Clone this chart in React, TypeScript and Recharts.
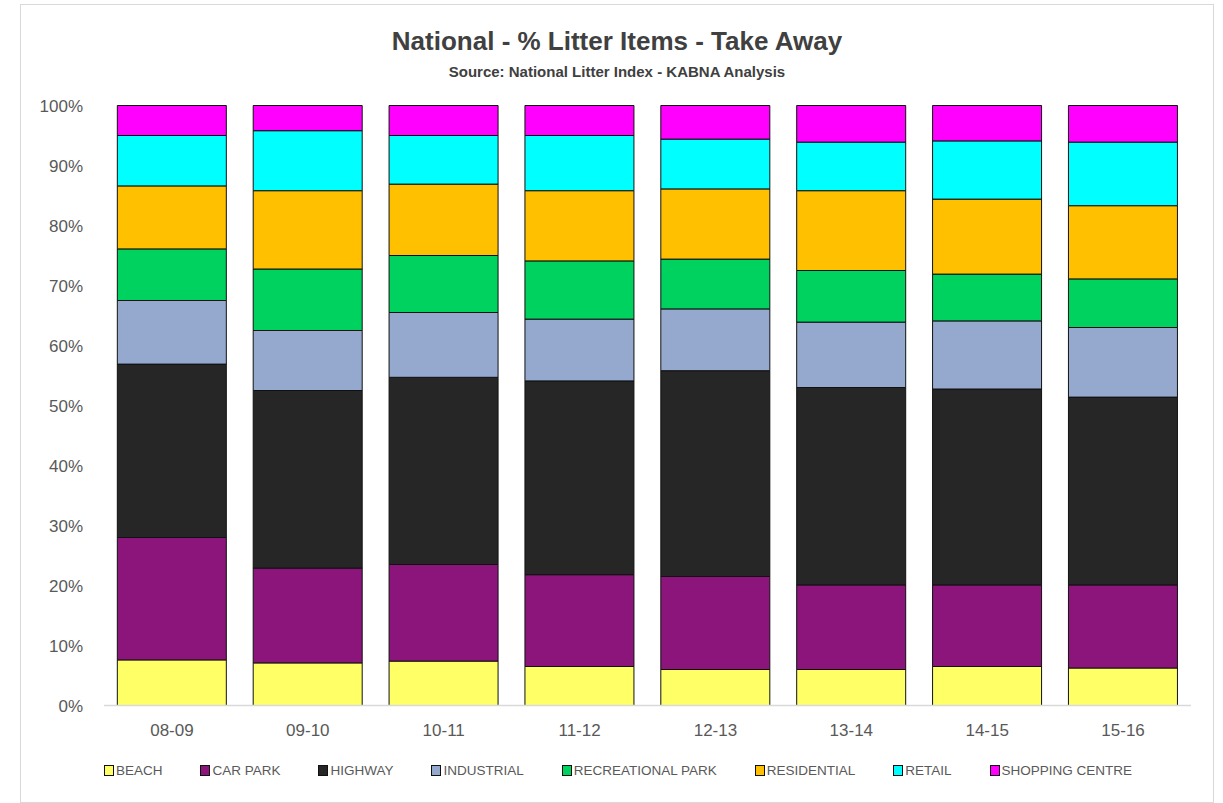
import { BarChart, Bar, XAxis, YAxis, Legend } from 'recharts'

const years = ['08-09', '09-10', '10-11', '11-12', '12-13', '13-14', '14-15', '15-16']

const beach = [7.6, 7.1, 7.4, 6.5, 6.0, 6.0, 6.5, 6.25]
const carPark = [20.4, 15.8, 16.1, 15.3, 15.5, 14.1, 13.6, 13.85]
const highway = [28.9, 29.6, 31.2, 32.3, 34.3, 32.9, 32.65, 31.3]
const industrial = [10.6, 10.0, 10.8, 10.3, 10.3, 10.9, 11.35, 11.6]
const recreationalPark = [8.6, 10.25, 9.5, 9.7, 8.3, 8.6, 7.8, 8.1]
const residential = [10.5, 13.05, 11.9, 11.7, 11.7, 13.3, 12.5, 12.2]
const retail = [8.4, 10.0, 8.1, 9.2, 8.3, 8.1, 9.7, 10.6]
const shoppingCentre = [5.0, 4.2, 5.0, 5.0, 5.6, 6.1, 5.9, 6.1]

const yTicks = [0, 10, 20, 30, 40, 50, 60, 70, 80, 90, 100]

const SERIES = [
  { key: 'beach', name: 'BEACH', color: '#FFFF66', values: beach },
  { key: 'carPark', name: 'CAR PARK', color: '#8B157A', values: carPark },
  { key: 'highway', name: 'HIGHWAY', color: '#262626', values: highway },
  { key: 'industrial', name: 'INDUSTRIAL', color: '#95A9CF', values: industrial },
  { key: 'recreationalPark', name: 'RECREATIONAL PARK', color: '#00D25F', values: recreationalPark },
  { key: 'residential', name: 'RESIDENTIAL', color: '#FFC000', values: residential },
  { key: 'retail', name: 'RETAIL', color: '#00FFFF', values: retail },
  { key: 'shoppingCentre', name: 'SHOPPING CENTRE', color: '#FF00FF', values: shoppingCentre },
]

const data = years.map((year, i) => {
  const row: Record<string, string | number> = { year }
  SERIES.forEach((s) => { row[s.key] = s.values[i] })
  return row
})

const FONT = '"Liberation Sans Narrow", "Arial Narrow", "Liberation Sans", sans-serif'
const TEXT = '#595959'

function LegendContent() {
  return (
    <div
      style={{
        display: 'flex',
        justifyContent: 'center',
        alignItems: 'center',
        gap: 38,
        fontFamily: FONT,
        fontSize: 13.5,
        color: TEXT,
        paddingLeft: 24,
      }}
    >
      {SERIES.map((s) => (
        <div key={s.key} style={{ display: 'flex', alignItems: 'center' }}>
          <span
            style={{
              width: 8,
              height: 9,
              background: s.color,
              border: '1.5px solid #111',
              marginRight: 2,
              display: 'inline-block',
            }}
          />
          <span>{s.name}</span>
        </div>
      ))}
    </div>
  )
}

export default function App() {
  return (
    <div
      style={{
        position: 'absolute',
        left: 20,
        top: 4,
        width: 1192,
        height: 797,
        border: '1px solid #d9d9d9',
        background: '#fff',
        fontFamily: FONT,
      }}
    >
      <div
        style={{
          position: 'absolute',
          top: 21,
          left: 0,
          width: '100%',
          textAlign: 'center',
          fontSize: 26,
          fontWeight: 'bold',
          color: '#404040',
        }}
      >
        National - % Litter Items - Take Away
      </div>
      <div
        style={{
          position: 'absolute',
          top: 58,
          left: 0,
          width: '100%',
          textAlign: 'center',
          fontSize: 15,
          fontWeight: 'bold',
          color: '#404040',
        }}
      >
        Source: National Litter Index - KABNA Analysis
      </div>
      <BarChart
        width={1192}
        height={797}
        data={data}
        margin={{ top: 100.5, right: 22, bottom: 19, left: 0 }}
        barCategoryGap="9.8%"
      >
        <XAxis
          dataKey="year"
          tickLine={false}
          tickSize={0}
          tickMargin={18}
          height={57.5}
          axisLine={{ stroke: '#d9d9d9', strokeWidth: 1.5 }}
          tick={{ fill: TEXT, fontSize: 17, fontFamily: FONT }}
        />
        <YAxis
          width={83}
          domain={[0, 100]}
          ticks={yTicks}
          tickFormatter={(v: number) => `${v}%`}
          axisLine={false}
          tickLine={false}
          tickSize={0}
          tickMargin={21}
          tick={{ fill: TEXT, fontSize: 17, fontFamily: FONT }}
        />
        <Legend verticalAlign="bottom" height={20} content={() => <LegendContent />} />
        {SERIES.map((s) => (
          <Bar
            key={s.key}
            dataKey={s.key}
            name={s.name}
            stackId="a"
            fill={s.color}
            stroke="#111"
            strokeWidth={1}
            isAnimationActive={false}
          />
        ))}
      </BarChart>
    </div>
  )
}
